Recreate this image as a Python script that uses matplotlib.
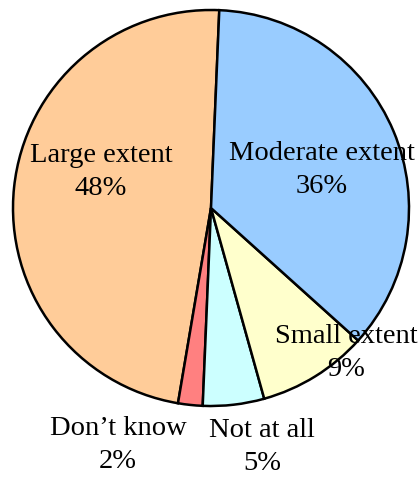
import matplotlib
matplotlib.use("Agg")
import matplotlib.pyplot as plt

# ======================== 数据 ========================
labels = ["Large extent", "Don\u2019t know", "Not at all", "Small extent", "Moderate extent"]
shares = [48, 2, 5, 9, 36]
colors = ["#FFCC99", "#FF8080", "#CCFFFF", "#FFFFCC", "#99CCFF"]

# 标签位置（图像像素，中心点）
label_pos = {
    "Large extent": (101, 172),
    "Moderate extent": (322, 170),
    "Small extent": (346, 353),
    "Don\u2019t know": (118, 445),
    "Not at all": (262, 447),
}

W, H = 420, 478

plt.rcParams["font.family"] = ["Liberation Serif", "DejaVu Serif"]

fig = plt.figure(figsize=(W / 100, H / 100), dpi=100)
# 饼图中心约在 (211, 208)，半径约 198 px
ax = fig.add_axes([13 / W, 1 - 406 / H, 396 / W, 396 / H])

wedges, _ = ax.pie(
    shares,
    colors=colors,
    startangle=87.6,
    counterclock=True,
    wedgeprops=dict(edgecolor="black", linewidth=1.8),
)
for w in wedges:
    w.set_clip_on(False)
ax.set_xlim(-1, 1)
ax.set_ylim(-1, 1)
ax.set_aspect("equal")
ax.axis("off")

for lab, val in zip(labels, shares):
    px, py = label_pos[lab]
    fig.text(px / W, 1 - py / H, f"{lab}\n{val}%", ha="center", va="center",
             fontsize=20.5, linespacing=1.45, color="black")

fig.savefig("out.png", dpi=100)
